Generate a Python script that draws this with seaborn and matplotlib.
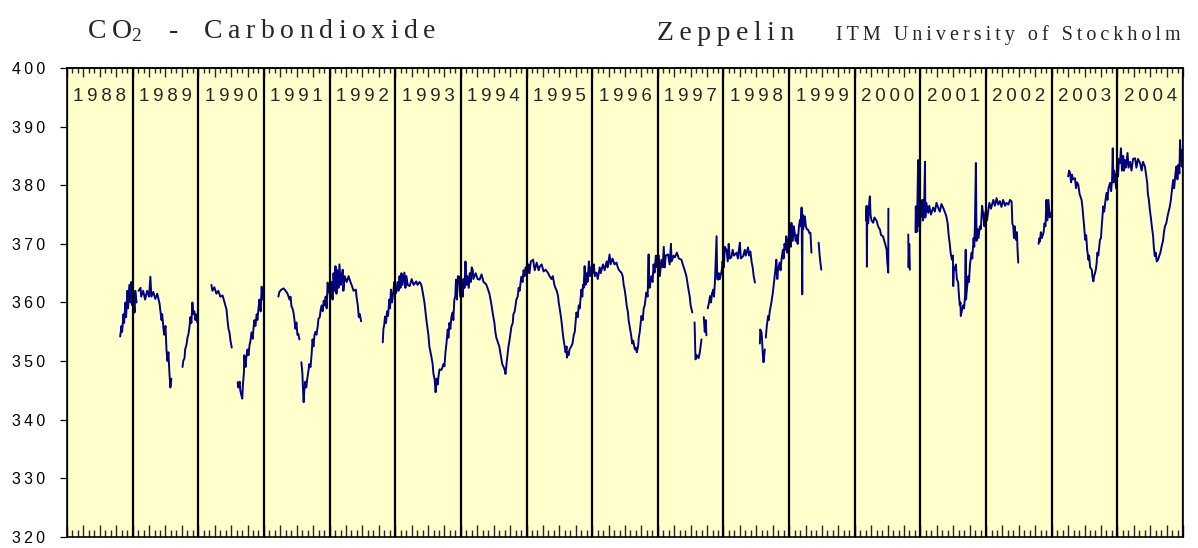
import matplotlib
matplotlib.use("Agg")
import matplotlib.pyplot as plt
from matplotlib.ticker import MultipleLocator, NullFormatter
import pandas as pd
import seaborn as sns

# ---------------- data ----------------
years = list(range(1988, 2005))
y_ticks = [320, 330, 340, 350, 360, 370, 380, 390, 400]
title_gas = "Carbondioxide"
title_site = "Zeppelin"
title_org = "ITM University of Stockholm"

GAP = (None, None)  # break in the record
# (fraction of year, CO2 ppm)
co2_1988 = [(0.81, 354.2), (0.83, 356.0), (0.84, 355.0), (0.86, 358.0), (0.87, 356.5), (0.89, 360.0), (0.90, 357.5),
            (0.92, 362.0), (0.93, 359.0), (0.95, 363.0), (0.965, 360.0), (0.98, 363.5), (0.995, 359.5)]
co2_1989 = [(0.01, 361.0), (0.03, 358.3), (0.04, 362.0), (0.06, 360.0), GAP, (0.09, 362.0), (0.12, 362.5), (0.13, 361.0),
            (0.16, 362.0), (0.19, 360.5), (0.22, 362.0), (0.25, 361.0), (0.27, 364.4), (0.285, 361.0), (0.315, 361.8),
            (0.345, 360.6), (0.375, 361.5), (0.41, 359.8), (0.42, 358.8), (0.44, 357.0), (0.45, 358.0), (0.47, 355.5),
            (0.48, 354.5), (0.50, 356.0), (0.515, 352.0), (0.53, 350.0), (0.545, 351.5), (0.56, 348.0), (0.575, 345.5),
            (0.59, 347.0), GAP, (0.76, 349.0), (0.77, 350.0), (0.79, 350.5), (0.80, 352.0), (0.82, 352.8), (0.835, 354.0),
            (0.85, 354.6), (0.865, 355.8), (0.88, 357.5), (0.895, 356.5), (0.91, 360.0), (0.925, 358.0), (0.94, 358.5),
            (0.955, 357.0), (0.97, 358.0), (0.985, 356.6)]
co2_1990 = [GAP, (0.20, 363.0), (0.215, 362.0), (0.245, 362.6), (0.275, 361.5), (0.305, 362.0), (0.335, 361.0),
            (0.37, 361.2), (0.40, 360.0), (0.43, 358.8), (0.445, 357.0), (0.46, 355.5), (0.475, 354.9), (0.49, 353.5),
            (0.51, 352.3), GAP, (0.60, 346.4), (0.61, 345.5), (0.63, 346.5), (0.64, 345.0), (0.66, 344.0), (0.67, 343.6),
            (0.68, 346.0), (0.695, 348.0), (0.70, 351.0), (0.72, 349.0), (0.73, 350.5), (0.75, 352.0), (0.765, 351.0),
            (0.78, 352.7), (0.795, 353.5), (0.81, 354.9), (0.83, 353.8), (0.84, 355.5), (0.855, 357.0), (0.87, 356.0),
            (0.89, 358.0), (0.90, 357.0), (0.92, 359.3), (0.93, 360.5), (0.95, 358.5), (0.965, 362.7), (0.98, 360.5)]
co2_1991 = [GAP, (0.22, 361.0), (0.235, 361.8), (0.265, 362.2), (0.30, 362.4), (0.33, 362.0), (0.36, 361.5),
            (0.39, 360.5), (0.405, 361.0), (0.42, 359.3), (0.435, 359.0), (0.45, 358.3), (0.465, 357.0), (0.48, 355.5),
            (0.495, 356.6), (0.51, 354.5), (0.525, 354.6), (0.54, 353.7), GAP, (0.57, 349.8), (0.585, 348.0),
            (0.60, 344.0), (0.605, 343.0), (0.615, 345.0), (0.63, 346.5), (0.645, 345.5), (0.66, 347.0), (0.68, 348.5),
            (0.69, 349.5), (0.71, 349.0), (0.725, 351.0), (0.74, 353.7), (0.755, 352.5), (0.77, 354.5), (0.785, 355.0),
            (0.80, 354.5), (0.82, 356.0), (0.83, 357.2), (0.85, 357.5), (0.865, 358.8), (0.88, 359.5), (0.895, 358.5),
            (0.91, 360.3), (0.925, 359.5), (0.94, 361.0), (0.955, 359.0), (0.97, 363.4), (0.985, 362.0)]
co2_1992 = [(0.015, 361.0), (0.03, 363.5), (0.045, 360.5), (0.06, 365.0), (0.075, 362.0), (0.09, 366.2), (0.105, 361.5),
            (0.12, 365.5), (0.135, 362.5), (0.15, 366.5), (0.17, 363.0), (0.18, 364.0), (0.20, 365.6), (0.21, 362.0),
            (0.23, 364.5), (0.26, 363.5), (0.29, 364.5), (0.305, 363.9), (0.335, 363.0), (0.365, 362.0), (0.40, 362.2),
            (0.41, 361.0), (0.43, 359.5), (0.445, 357.5), (0.46, 358.0), (0.48, 356.8), GAP, (0.81, 353.2),
            (0.82, 355.5), (0.83, 356.0), (0.845, 357.6), (0.86, 356.5), (0.875, 358.5), (0.89, 357.7), (0.91, 360.5),
            (0.92, 359.0), (0.935, 362.2), (0.95, 360.0), (0.97, 361.7), (0.985, 363.5)]
co2_1993 = [(0.0, 361.5), (0.015, 361.7), (0.035, 363.5), (0.05, 362.0), (0.065, 364.5), (0.08, 362.5), (0.095, 365.0),
            (0.11, 363.0), (0.14, 365.1), (0.155, 362.5), (0.17, 364.5), (0.19, 363.0), (0.22, 362.8), (0.25, 364.0),
            (0.28, 363.0), (0.32, 363.6), (0.34, 363.0), (0.37, 363.5), (0.395, 363.1), (0.415, 362.0), (0.445, 360.0),
            (0.46, 358.5), (0.475, 357.0), (0.495, 355.4), (0.505, 354.5), (0.52, 352.5), (0.55, 350.8), (0.57, 349.5),
            (0.58, 348.0), (0.60, 346.9), (0.615, 344.7), (0.63, 347.0), (0.645, 346.0), (0.66, 347.5), (0.675, 348.6),
            (0.705, 348.5), (0.735, 349.5), (0.75, 349.1), (0.765, 351.5), (0.78, 353.0), (0.80, 355.4), (0.81, 354.0),
            (0.825, 356.5), (0.84, 355.5), (0.855, 357.5), (0.875, 358.3), (0.885, 357.0), (0.90, 360.5), (0.915, 361.0),
            (0.925, 363.9), (0.94, 360.5), (0.955, 364.5), (0.975, 364.4), (0.99, 361.0)]
co2_1994 = [(0.01, 363.5), (0.03, 361.0), (0.04, 364.0), (0.055, 362.5), (0.07, 367.0), (0.085, 363.0), (0.10, 364.5),
            (0.12, 362.5), (0.135, 365.0), (0.15, 363.5), (0.165, 366.0), (0.18, 365.6), (0.19, 364.0), (0.225, 365.0),
            (0.255, 364.0), (0.285, 363.9), (0.315, 364.8), (0.345, 363.5), (0.385, 363.1), (0.405, 362.5),
            (0.435, 361.5), (0.46, 360.0), (0.48, 358.5), (0.495, 357.5), (0.51, 356.6), (0.525, 355.0), (0.54, 354.0),
            (0.555, 353.5), (0.585, 352.5), (0.60, 351.5), (0.615, 350.5), (0.63, 349.5), (0.65, 349.0), (0.665, 348.6),
            (0.68, 347.8), (0.695, 349.5), (0.715, 351.5), (0.725, 352.5), (0.74, 353.5), (0.77, 355.9), (0.79, 356.5),
            (0.80, 358.0), (0.82, 358.5), (0.845, 360.5), (0.865, 361.0), (0.88, 362.5), (0.895, 362.0), (0.92, 364.4),
            (0.94, 363.5), (0.955, 365.5), (0.97, 364.5), (0.985, 366.0)]
co2_1995 = [(0.015, 365.0), (0.03, 366.5), (0.045, 365.0), (0.065, 367.0), (0.10, 367.3), (0.125, 365.5),
            (0.155, 366.8), (0.185, 365.5), (0.20, 366.1), (0.23, 366.5), (0.26, 365.3), (0.29, 365.6), (0.325, 365.1),
            (0.35, 364.5), (0.38, 364.0), (0.40, 364.5), (0.425, 363.0), (0.44, 362.5), (0.46, 362.0), (0.48, 361.1),
            (0.49, 360.0), (0.505, 359.0), (0.53, 357.1), (0.54, 356.0), (0.56, 354.0), (0.58, 352.6), (0.595, 351.5),
            (0.61, 352.5), (0.615, 350.6), (0.625, 351.5), (0.64, 351.0), (0.655, 352.0), (0.685, 352.6), (0.70, 353.0),
            (0.72, 354.5), (0.735, 355.0), (0.76, 358.3), (0.78, 357.5), (0.795, 359.5), (0.81, 359.0), (0.835, 362.2),
            (0.85, 361.0), (0.86, 363.0), (0.87, 362.5), (0.885, 366.2), (0.90, 363.0), (0.915, 365.0), (0.93, 363.5),
            (0.95, 367.0), (0.965, 364.5), (0.98, 366.0)]
co2_1996 = [(0.01, 365.0), (0.025, 366.5), (0.04, 364.5), (0.065, 365.1), (0.085, 364.0), (0.115, 366.0), (0.13, 365.0),
            (0.165, 366.5), (0.19, 365.5), (0.22, 367.0), (0.235, 366.0), (0.265, 368.2), (0.28, 366.5), (0.31, 367.5),
            (0.34, 366.5), (0.37, 366.8), (0.39, 366.0), (0.41, 365.5), (0.445, 365.1), (0.465, 364.5), (0.48, 363.0),
            (0.495, 362.2), (0.51, 361.0), (0.525, 359.5), (0.545, 358.3), (0.555, 357.0), (0.57, 356.0),
            (0.595, 354.3), (0.61, 353.0), (0.625, 353.5), (0.65, 352.0), (0.665, 352.3), (0.68, 351.5), (0.70, 352.6),
            (0.71, 354.0), (0.725, 355.0), (0.75, 357.7), (0.77, 357.0), (0.785, 359.0), (0.80, 359.5), (0.825, 361.7),
            (0.845, 361.0), (0.86, 368.2), (0.865, 363.0), (0.875, 362.5), (0.90, 364.5), (0.92, 363.5), (0.935, 366.5),
            (0.95, 365.1), (0.97, 368.0), (0.985, 366.0)]
co2_1997 = [(0.015, 368.0), (0.03, 364.5), (0.055, 367.3), (0.075, 366.0), (0.09, 369.5), (0.105, 366.0), (0.12, 368.0),
            (0.155, 368.2), (0.18, 366.5), (0.20, 370.0), (0.21, 367.0), (0.24, 368.0), (0.26, 367.7), (0.29, 368.5),
            (0.32, 367.5), (0.36, 367.3), (0.38, 366.5), (0.395, 366.0), (0.41, 365.5), (0.435, 364.5), (0.455, 363.0),
            (0.47, 362.0), (0.485, 361.1), (0.50, 359.5), (0.525, 358.3), GAP, (0.56, 356.6), (0.57, 352.0),
            (0.575, 350.3), (0.59, 351.0), (0.61, 350.8), (0.62, 350.5), (0.64, 351.5), (0.665, 353.7), GAP,
            (0.70, 357.5), (0.715, 355.0), (0.73, 357.0), (0.74, 354.4), GAP, (0.76, 359.0), (0.78, 360.0),
            (0.795, 361.1), (0.81, 360.0), (0.825, 361.5), (0.845, 362.2), (0.855, 361.0), (0.87, 363.5),
            (0.895, 371.3), (0.905, 364.0), (0.92, 363.9), (0.93, 365.0), (0.945, 364.0), (0.975, 365.6), (0.985, 367.0)]
co2_1998 = [(0.005, 366.0), (0.02, 369.5), (0.045, 369.0), (0.065, 367.0), (0.08, 370.0), (0.095, 367.5), (0.12, 367.7),
            (0.14, 369.0), (0.16, 368.0), (0.20, 368.5), (0.22, 367.5), (0.235, 369.0), (0.25, 370.2), (0.265, 367.5),
            (0.30, 367.9), (0.325, 369.0), (0.34, 368.0), (0.375, 369.4), (0.39, 368.0), (0.41, 368.7), (0.43, 366.8),
            (0.445, 366.0), (0.46, 364.5), (0.48, 363.4), GAP, (0.555, 353.0), (0.56, 355.4), (0.58, 354.9),
            (0.59, 353.2), (0.60, 351.0), (0.61, 349.8), (0.63, 352.0), GAP, (0.645, 354.0), (0.66, 356.0),
            (0.68, 357.7), (0.69, 357.0), (0.705, 358.5), (0.73, 360.0), (0.75, 361.5), (0.765, 363.0), (0.78, 364.5),
            (0.795, 366.0), (0.805, 367.3), (0.82, 364.0), (0.83, 365.5), (0.855, 366.8), (0.87, 365.5), (0.885, 367.5),
            (0.905, 369.0), (0.915, 367.5), (0.93, 370.0), (0.945, 369.0), (0.955, 371.3), (0.97, 368.5), (0.985, 370.5)]
co2_1999 = [(0.01, 372.5), (0.025, 369.5), (0.035, 373.6), (0.055, 370.5), (0.07, 373.0), (0.085, 371.9), (0.10, 370.5),
            (0.115, 371.5), (0.13, 370.0), (0.15, 373.0), (0.165, 374.1), (0.18, 373.0), (0.19, 376.2), (0.20, 361.4),
            (0.205, 375.0), (0.215, 372.5), (0.24, 374.7), (0.255, 373.0), (0.27, 372.5), (0.29, 372.4), (0.31, 371.8),
            (0.325, 371.9), (0.34, 368.5), GAP, (0.45, 370.2), (0.465, 368.0), (0.48, 366.5), (0.49, 365.6), GAP]
co2_2000 = [(0.17, 374.0), (0.18, 376.5), (0.185, 366.1), (0.19, 374.7), (0.205, 373.5), (0.22, 377.0), (0.23, 378.1),
            (0.24, 375.0), (0.255, 374.0), (0.28, 373.6), (0.30, 374.5), (0.335, 373.9), (0.355, 373.0), (0.385, 372.4),
            (0.40, 371.5), (0.43, 371.3), (0.45, 370.5), (0.475, 369.5), (0.485, 369.0), (0.495, 367.0), (0.51, 365.1),
            (0.512, 376.0), GAP, (0.815, 371.6), (0.82, 366.0), (0.83, 370.0), (0.84, 365.6), GAP, (0.925, 372.0),
            (0.93, 376.4), (0.94, 372.0), (0.95, 374.0), (0.965, 384.3), (0.97, 373.0), (0.98, 375.5), (0.99, 372.0)]
co2_2001 = [(0.01, 376.0), (0.02, 374.7), (0.03, 377.5), (0.04, 374.0), (0.055, 375.5), (0.07, 384.0), (0.075, 374.5),
            (0.09, 377.0), (0.12, 375.3), (0.135, 376.5), (0.16, 375.0), (0.195, 376.2), (0.22, 375.5), (0.245, 377.0),
            (0.27, 376.2), (0.295, 375.5), (0.32, 376.8), (0.345, 376.2), (0.37, 375.5), (0.395, 374.7), (0.415, 373.5),
            (0.43, 371.5), (0.445, 370.2), (0.46, 368.5), (0.48, 367.3), (0.495, 368.0), (0.50, 362.8), (0.51, 366.0),
            (0.525, 365.6), (0.54, 366.5), (0.555, 364.0), (0.575, 363.4), (0.585, 361.5), (0.60, 359.5), (0.61, 360.0),
            (0.615, 357.7), (0.63, 358.5), (0.65, 359.5), (0.665, 359.0), (0.68, 361.1), (0.69, 369.0), (0.695, 360.5),
            (0.71, 362.5), (0.73, 364.5), (0.74, 363.5), (0.755, 366.5), (0.78, 368.5), (0.79, 367.5), (0.81, 371.0),
            (0.82, 369.5), (0.83, 373.0), (0.845, 383.8), (0.855, 370.5), (0.87, 372.5), (0.885, 371.0), (0.905, 373.0),
            (0.92, 372.5), (0.94, 376.5), (0.96, 374.7), (0.975, 373.0), (0.99, 375.5)]
co2_2002 = [(0.015, 374.0), (0.035, 375.8), (0.05, 377.0), (0.075, 376.0), (0.11, 377.5), (0.135, 376.5), (0.16, 377.8),
            (0.185, 376.7), (0.21, 377.3), (0.235, 376.3), (0.26, 377.5), (0.29, 376.5), (0.31, 377.0), (0.34, 376.7),
            (0.365, 377.5), (0.39, 377.2), (0.40, 373.5), (0.415, 373.0), (0.425, 371.0), (0.435, 373.0), (0.455, 370.7),
            (0.47, 372.0), (0.48, 369.0), (0.49, 366.8), GAP, (0.80, 370.0), (0.815, 371.0), (0.82, 370.4),
            (0.835, 372.0), (0.85, 371.0), (0.875, 371.9), (0.89, 373.5), (0.905, 373.0), (0.92, 377.5), (0.935, 374.0),
            (0.95, 377.5), (0.97, 374.5), (0.985, 375.3), GAP]
co2_2003 = [(0.25, 381.5), (0.265, 382.5), (0.28, 382.1), (0.295, 380.5), (0.31, 381.8), (0.325, 381.0), (0.355, 381.2),
            (0.37, 379.5), (0.385, 380.5), (0.405, 380.1), (0.425, 378.5), (0.44, 378.0), (0.455, 377.5), (0.47, 376.0),
            (0.48, 374.7), (0.49, 373.5), (0.51, 370.7), (0.525, 371.5), (0.54, 369.0), (0.56, 367.3), (0.57, 368.0),
            (0.585, 366.0), (0.61, 365.6), (0.62, 364.5), (0.635, 363.6), (0.645, 364.5), (0.66, 365.0), (0.675, 365.8),
            (0.685, 366.8), (0.695, 368.5), (0.71, 368.0), (0.735, 370.7), (0.75, 371.0), (0.765, 373.5), (0.785, 376.4),
            (0.80, 375.5), (0.82, 377.5), (0.835, 378.7), (0.85, 377.5), (0.865, 379.5), (0.89, 380.4), (0.905, 379.0),
            (0.92, 381.0), (0.93, 386.3), (0.94, 380.5), (0.95, 382.5), (0.965, 381.5), (0.98, 379.5), (0.995, 383.0)]
co2_2004 = [(0.01, 381.5), (0.025, 384.5), (0.04, 383.8), (0.055, 386.3), (0.07, 382.5), (0.09, 385.0), (0.10, 382.5),
            (0.115, 384.3), (0.13, 383.0), (0.155, 385.5), (0.17, 383.0), (0.195, 384.0), (0.215, 382.5), (0.24, 384.5),
            (0.27, 384.6), (0.29, 383.0), (0.315, 384.5), (0.345, 383.8), (0.37, 382.5), (0.39, 384.0), (0.42, 383.2),
            (0.435, 382.0), (0.455, 380.4), (0.465, 378.5), (0.48, 377.5), (0.495, 375.8), (0.51, 374.5), (0.525, 373.0),
            (0.545, 371.3), (0.555, 369.5), (0.57, 367.9), (0.585, 368.5), (0.60, 367.0), (0.62, 367.3), (0.64, 368.0),
            (0.655, 368.5), (0.675, 369.6), (0.695, 370.5), (0.71, 372.0), (0.725, 373.0), (0.745, 373.5), (0.77, 375.0),
            (0.80, 376.4), (0.815, 377.5), (0.83, 379.0), (0.85, 380.9), (0.865, 379.5), (0.885, 382.0), (0.90, 383.2),
            (0.915, 381.0), (0.93, 383.5), (0.945, 382.0), (0.955, 387.7), (0.965, 384.5), (0.975, 386.0), (0.98, 383.2)]

records = [co2_1988, co2_1989, co2_1990, co2_1991, co2_1992, co2_1993, co2_1994, co2_1995, co2_1996,
           co2_1997, co2_1998, co2_1999, co2_2000, co2_2001, co2_2002, co2_2003, co2_2004]

# ---------------- build table ----------------
rows, seg = [], 0
for yr, pts in zip(years, records):
    for frac, val in pts:
        if val is None:
            seg += 1
            continue
        rows.append({"date": yr + frac, "co2": val, "seg": seg})
df = pd.DataFrame(rows)

# ---------------- style ----------------
sns.set_style("ticks")
plt.rcParams["font.family"] = ["Liberation Sans", "DejaVu Sans"]
plt.rcParams["mathtext.default"] = "regular"

TS = "\u2009"  # thin space used as letter spacing


def spaced(s):
    return TS.join(s)


def spaced_words(s):
    return (TS + " " + TS).join(spaced(w) for w in s.split(" "))


W, H = 1198, 548
fig = plt.figure(figsize=(W / 100, H / 100), dpi=100)
fig.patch.set_facecolor("white")
ax = fig.add_axes([67 / W, 1 - 537 / H, (1183 - 67) / W, (537 - 68) / H])
ax.set_facecolor("#FFFFCC")

sns.lineplot(data=df, x="date", y="co2", units="seg", estimator=None, sort=False,
             color="#000080", linewidth=1.4, ax=ax)

ax.set_xlim(years[0], years[-1] + 1)
ax.set_ylim(y_ticks[0], y_ticks[-1])
ax.set_xlabel("")
ax.set_ylabel("")

for yr in years + [years[-1] + 1]:
    ax.axvline(yr, color="black", lw=1.6, zorder=3)

for yr in years:
    ax.text(yr + 0.5, 395.2, spaced(str(yr)), ha="center", va="center",
            fontsize=13.5, family=["Liberation Sans", "DejaVu Sans"], zorder=4)

# y axis
ax.set_yticks(y_ticks)
ax.set_yticklabels([spaced(str(v)) for v in y_ticks])
ax.tick_params(axis="y", direction="out", length=5, width=0.9, pad=11, labelsize=11.5, colors="black")

# bottom month/quarter ticks
ax.xaxis.set_major_locator(MultipleLocator(0.25))
ax.xaxis.set_minor_locator(MultipleLocator(1 / 12))
ax.xaxis.set_major_formatter(NullFormatter())
ax.tick_params(axis="x", which="major", direction="in", length=8.5, width=1.0, bottom=True, top=False)
ax.tick_params(axis="x", which="minor", direction="in", length=5, width=1.0, bottom=True, top=False)

# top month/quarter ticks
sec = ax.secondary_xaxis("top")
sec.xaxis.set_major_locator(MultipleLocator(0.25))
sec.xaxis.set_minor_locator(MultipleLocator(1 / 12))
sec.xaxis.set_major_formatter(NullFormatter())
sec.tick_params(axis="x", which="major", direction="in", length=6.5, width=1.0)
sec.tick_params(axis="x", which="minor", direction="in", length=3.6, width=1.0)
sec.spines["top"].set_linewidth(1.2)

for sp in ax.spines.values():
    sp.set_color("black")
    sp.set_linewidth(1.2)

# titles
serif = ["Liberation Serif", "DejaVu Serif"]
fig.text(87 / W, 1 - 38 / H, TS.join("CO") + "$_{2}$" + TS + "   -   " + TS + spaced(title_gas),
         ha="left", va="baseline", fontsize=20, family=serif)
fig.text(657 / W, 1 - 40 / H, spaced(title_site), ha="left", va="baseline", fontsize=20, family=serif)
fig.text(836 / W, 1 - 40 / H, spaced_words(title_org),
         ha="left", va="baseline", fontsize=14.5, family=serif)

fig.savefig("out.png", dpi=100, facecolor="white")
